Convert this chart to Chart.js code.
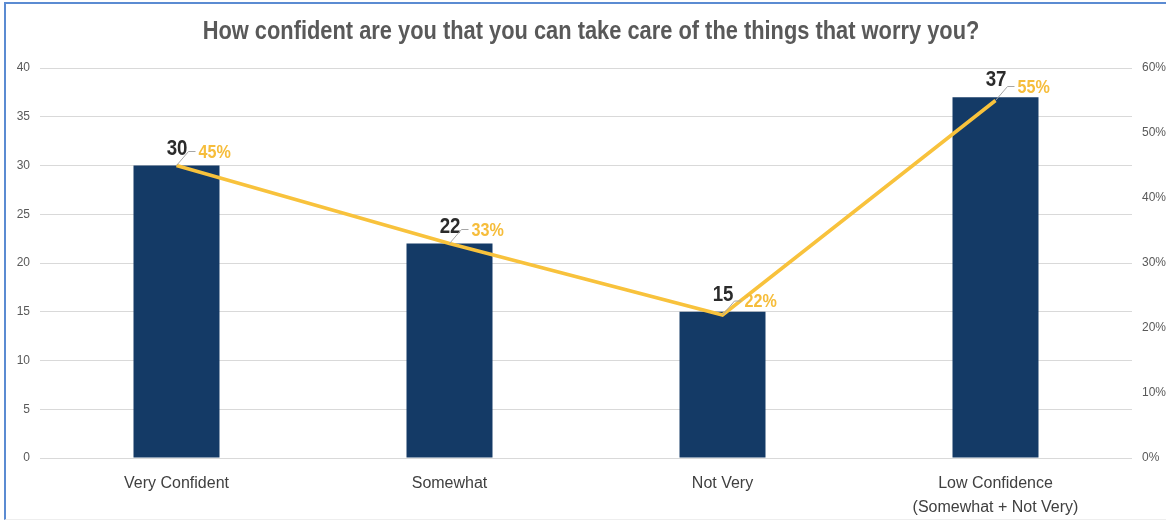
<!DOCTYPE html>
<html>
<head>
<meta charset="utf-8">
<script src="https://cdn.jsdelivr.net/npm/chart.js@4/dist/chart.umd.min.js"></script>
<style>
  html, body { margin: 0; padding: 0; background: #fff; }
  #wrap { position: relative; width: 1166px; height: 523px; overflow: hidden; }
  #frame { position: absolute; left: 4px; top: 2px; right: -4px; bottom: 3px;
           border-left: 2px solid #5b8bd2; border-top: 2px solid #5b8bd2;
           border-bottom: 1px solid #eeeeee; pointer-events: none; }
  canvas { position: absolute; left: 0; top: 0; }
</style>
</head>
<body>
<div id="wrap">
  <canvas id="chart" width="1166" height="523"></canvas>
  <div id="frame"></div>
</div>
<script>
const titleText = 'How confident are you that you can take care of the things that worry you?';
const categories = [['Very Confident'], ['Somewhat'], ['Not Very'], ['Low Confidence', '(Somewhat + Not Very)']];
const counts = [30, 22, 15, 37];          // 棒（左軸）
const shares = [0.45, 0.33, 0.22, 0.55];  // 折れ線（右軸）
const countTicks = [0, 5, 10, 15, 20, 25, 30, 35, 40];
const shareTicks = [0, 0.1, 0.2, 0.3, 0.4, 0.5, 0.6];

const sans = '"Liberation Sans", Arial, sans-serif';

// 横に詰めた文字（Narrow書体の代わり）
function narrowText(ctx, text, x, y, squeeze) {
    ctx.save();
    ctx.translate(x, y);
    ctx.scale(squeeze, 1);
    ctx.fillText(text, 0, 0);
    ctx.restore();
}

// タイトル
const titlePlugin = {
    id: 'narrowTitle',
    afterDraw(chart) {
        const ctx = chart.ctx;
        ctx.save();
        ctx.font = 'bold 26px ' + sans;
        ctx.fillStyle = '#595959';
        ctx.textAlign = 'center';
        ctx.textBaseline = 'middle';
        narrowText(ctx, titleText, 591, 32, 0.84);
        ctx.restore();
    }
};

// 棒の値と割合のラベル（引き出し線つき）
const labelPlugin = {
    id: 'labels',
    afterDatasetsDraw(chart) {
        const ctx = chart.ctx;
        const bars = chart.getDatasetMeta(0).data;
        const pts = chart.getDatasetMeta(1).data;
        ctx.save();
        bars.forEach((bar, i) => {
            const cx = bar.x;
            ctx.font = 'bold 22px ' + sans;
            ctx.fillStyle = '#2b2b2b';
            ctx.textAlign = 'right';
            ctx.textBaseline = 'alphabetic';
            narrowText(ctx, String(counts[i]), cx + 11, bar.y - 11, 0.85);

            const p = pts[i];
            const ly = p.y - 14;
            ctx.strokeStyle = '#a6a6a6';
            ctx.lineWidth = 1;
            ctx.beginPath();
            ctx.moveTo(p.x, p.y);
            ctx.lineTo(p.x + 12, ly);
            ctx.lineTo(p.x + 19, ly);
            ctx.stroke();

            ctx.font = 'bold 19px ' + sans;
            ctx.fillStyle = '#f6bd3b';
            ctx.textAlign = 'left';
            ctx.textBaseline = 'middle';
            narrowText(ctx, Math.round(shares[i] * 100) + '%', p.x + 22, ly + 1, 0.85);
        });
        ctx.restore();
    }
};

const ctx = document.getElementById('chart').getContext('2d');
new Chart(ctx, {
    data: {
        labels: categories,
        datasets: [{
            type: 'bar',
            data: counts,
            backgroundColor: '#143a66',
            yAxisID: 'y',
            order: 2,
            barPercentage: 0.63,
            categoryPercentage: 0.5
        }, {
            type: 'line',
            data: shares,
            borderColor: '#f8c23c',
            borderWidth: 3.5,
            pointRadius: 0,
            tension: 0,
            fill: false,
            yAxisID: 'y1',
            order: 1
        }]
    },
    options: {
        responsive: false,
        animation: false,
        layout: { padding: { top: 68, bottom: 0, left: 0, right: 0 } },
        plugins: {
            legend: { display: false },
            tooltip: { enabled: false },
            title: { display: false }
        },
        scales: {
            x: {
                grid: { display: false },
                border: { display: false },
                ticks: {
                    color: '#404040',
                    font: { family: sans, size: 16, lineHeight: 1.5 },
                    padding: 6,
                    maxRotation: 0,
                    autoSkip: false
                },
                afterFit(scale) { scale.height = 65; }
            },
            y: {
                position: 'left',
                min: countTicks[0],
                max: countTicks[countTicks.length - 1],
                afterBuildTicks(scale) { scale.ticks = countTicks.map(v => ({ value: v })); },
                grid: { color: '#d9d9d9', drawTicks: false },
                border: { display: false },
                ticks: {
                    color: '#595959',
                    font: { family: sans, size: 12 },
                    padding: 10
                },
                afterFit(scale) { scale.width = 40; }
            },
            y1: {
                position: 'right',
                min: shareTicks[0],
                max: shareTicks[shareTicks.length - 1],
                afterBuildTicks(scale) { scale.ticks = shareTicks.map(v => ({ value: v })); },
                grid: { display: false, drawTicks: false },
                border: { display: false },
                ticks: {
                    color: '#595959',
                    font: { family: sans, size: 12 },
                    padding: 10,
                    callback: v => Math.round(v * 100) + '%'
                },
                afterFit(scale) { scale.width = 34; }
            }
        }
    },
    plugins: [labelPlugin, titlePlugin]
});
</script>
</body>
</html>
